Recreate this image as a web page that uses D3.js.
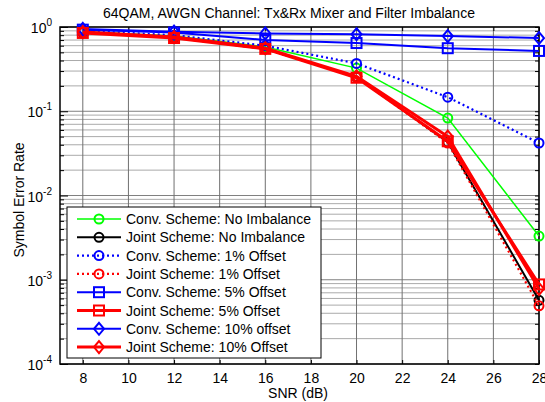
<!DOCTYPE html>
<html><head><meta charset="utf-8">
<script src="https://cdn.jsdelivr.net/npm/d3@7"></script>
<style>body{margin:0;background:#fff}svg{display:block}text{font-family:"Liberation Sans",Arial,sans-serif}</style>
</head><body><svg id="c" width="545" height="402"></svg>
<script>
const snr = [8, 12, 16, 20, 24, 28];
const xTicks = [8, 10, 12, 14, 16, 18, 20, 22, 24, 26, 28];
const yTicks = [1e-4, 1e-3, 1e-2, 1e-1, 1];
const seriesNames = ["Conv. Scheme: No Imbalance","Joint Scheme: No Imbalance","Conv. Scheme: 1% Offset","Joint Scheme: 1% Offset","Conv. Scheme: 5% Offset","Joint Scheme: 5% Offset","Conv. Scheme: 10% offset","Joint Scheme: 10% Offset"];
const convNo   = [0.88, 0.78, 0.58, 0.325, 0.083, 0.0033];
const jointNo  = [0.86, 0.75, 0.55, 0.255, 0.043, 0.00057];
const conv1    = [0.90, 0.80, 0.60, 0.37, 0.147, 0.042];
const joint1   = [0.86, 0.75, 0.55, 0.255, 0.042, 0.00049];
const conv5    = [0.93, 0.86, 0.70, 0.645, 0.56, 0.52];
const joint5   = [0.85, 0.74, 0.55, 0.25, 0.044, 0.00088];
const conv10   = [0.95, 0.88, 0.84, 0.82, 0.78, 0.74];
const joint10  = [0.87, 0.76, 0.56, 0.26, 0.05, 0.00078];
const seriesValues = [convNo, jointNo, conv1, joint1, conv5, joint5, conv10, joint10];
const colors = ["#00ff00","#000000","#0000ff","#ff0000","#0000ff","#ff0000","#0000ff","#ff0000"];
const markers = ["circle","circle","circle","circle","square","square","diamond","diamond"];
const dashed = [false,false,true,true,false,false,false,false];
const widths = [1.5,2,2.2,2.2,2,3,2,3];

const svg = d3.select("#c");
const L=60, R=539, T=27, B=364;
const x = d3.scaleLinear().domain([7,28]).range([L,R]);
const y = d3.scaleLog().domain([1e-4,1]).range([B,T]);

// grid
const g = svg.append("g");
const minor = [];
for (let e=-4;e<0;e++) for (let m=2;m<=9;m++) minor.push(m*Math.pow(10,e));
g.selectAll(".mn").data(minor).enter().append("line")
 .attr("x1",L).attr("x2",R).attr("y1",d=>y(d)).attr("y2",d=>y(d))
 .attr("stroke","#aaaaaa").attr("stroke-width",1);
g.selectAll(".mj").data(yTicks).enter().append("line")
 .attr("x1",L).attr("x2",R).attr("y1",d=>y(d)).attr("y2",d=>y(d))
 .attr("stroke","#808080").attr("stroke-width",1);
g.selectAll(".vx").data(xTicks).enter().append("line")
 .attr("x1",d=>x(d)).attr("x2",d=>x(d)).attr("y1",T).attr("y2",B)
 .attr("stroke","#707070").attr("stroke-width",1);

// axes with inner ticks
const xa = svg.append("g").attr("transform",`translate(0,${B})`)
 .call(d3.axisBottom(x).tickValues(xTicks).tickSize(-4).tickPadding(9).tickFormat(d3.format("d")));
const xt = svg.append("g").attr("transform",`translate(0,${T})`)
 .call(d3.axisTop(x).tickValues(xTicks).tickSize(-4).tickFormat(""));
const ya = svg.append("g").attr("transform",`translate(${L},0)`)
 .call(d3.axisLeft(y).tickValues(minor.concat(yTicks)).tickSize(-4).tickFormat(""));
ya.selectAll(".tick line").attr("x2",d=>yTicks.includes(d)?8:4);
const yr = svg.append("g").attr("transform",`translate(${R},0)`)
 .call(d3.axisRight(y).tickValues(minor.concat(yTicks)).tickSize(-4).tickFormat(""));
[xa,xt,ya,yr].forEach(a=>{a.select(".domain").remove();a.selectAll("line").attr("stroke","#000");a.selectAll("text").attr("font-size",14).attr("fill","#000").attr("font-family","Liberation Sans, Arial, sans-serif");});
svg.append("rect").attr("x",L).attr("y",T).attr("width",R-L).attr("height",B-T).attr("fill","none").attr("stroke","#000").attr("stroke-width",1.5);

// y tick labels 10^n
yTicks.forEach(v=>{
 const e=Math.round(Math.log10(v));
 const t=svg.append("text").attr("x",L-8).attr("y",y(v)+6).attr("text-anchor","end").attr("font-size",14);
 t.append("tspan").text("10");
 t.append("tspan").attr("dy",-7).attr("font-size",10).text(e);
});

function drawMarker(sel, type, cx, cy, color){
 if(type==="circle") sel.append("circle").attr("cx",cx).attr("cy",cy).attr("r",4.5).attr("fill","none").attr("stroke",color).attr("stroke-width",2);
 else if(type==="square") sel.append("rect").attr("x",cx-5).attr("y",cy-5).attr("width",10).attr("height",10).attr("fill","none").attr("stroke",color).attr("stroke-width",2);
 else sel.append("path").attr("d",`M${cx},${cy-6}L${cx+5},${cy}L${cx},${cy+6}L${cx-5},${cy}Z`).attr("fill","none").attr("stroke",color).attr("stroke-width",2);
}

const line = d3.line().x((d,i)=>x(snr[i])).y(d=>y(d));
const plotOrder=[0,1,2,3,4,6,5,7];
plotOrder.forEach(k=>{
 const gs=svg.append("g");
 gs.append("path").datum(seriesValues[k]).attr("d",line).attr("fill","none").attr("stroke",colors[k])
   .attr("stroke-width",widths[k]).attr("stroke-dasharray",dashed[k]?"2,3":null);
 seriesValues[k].forEach((v,i)=>drawMarker(gs,markers[k],x(snr[i]),y(v),colors[k]));
});

// legend
const lg=svg.append("g");
lg.append("rect").attr("x",67).attr("y",207).attr("width",254).attr("height",151).attr("fill","#fff").attr("stroke","#000").attr("stroke-width",1);
seriesNames.forEach((n,k)=>{
 const yy=219+k*18.3;
 lg.append("line").attr("x1",77).attr("x2",121).attr("y1",yy).attr("y2",yy).attr("stroke",colors[k]).attr("stroke-width",widths[k]).attr("stroke-dasharray",dashed[k]?"2,3":null);
 drawMarker(lg,markers[k],99,yy,colors[k]);
 lg.append("text").attr("x",126).attr("y",yy+5).attr("font-size",14).text(n);
});

svg.append("text").attr("x",289).attr("y",18).attr("text-anchor","middle").attr("font-size",14).text("64QAM, AWGN Channel: Tx&Rx Mixer and Filter Imbalance");
svg.append("text").attr("x",298).attr("y",398).attr("text-anchor","middle").attr("font-size",14).text("SNR (dB)");
svg.append("text").attr("transform","translate(24,200) rotate(-90)").attr("text-anchor","middle").attr("font-size",14).text("Symbol Error Rate");
</script></body></html>
